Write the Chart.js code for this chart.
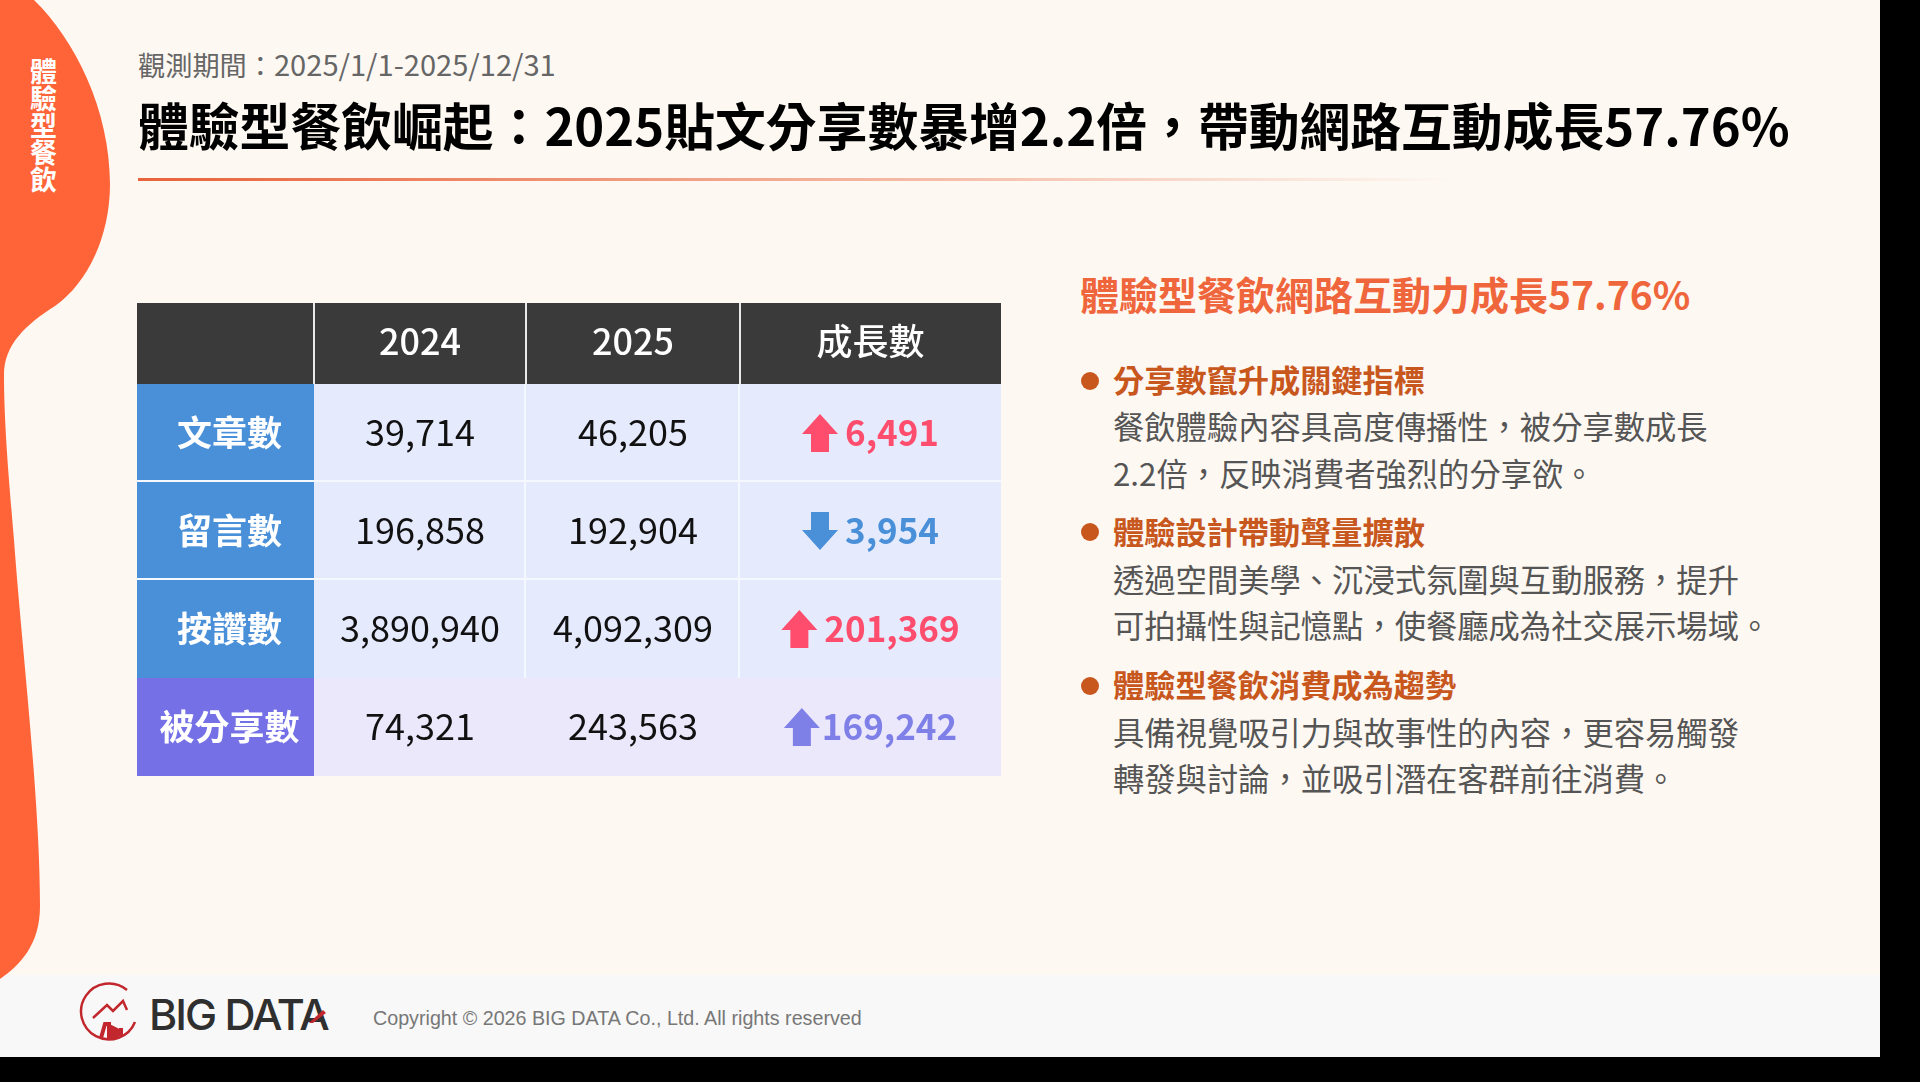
<!DOCTYPE html>
<html lang="zh-TW">
<head>
<meta charset="UTF-8">
<title>體驗型餐飲崛起</title>
<script src="https://cdn.jsdelivr.net/npm/chart.js"></script>
<style>
    * { margin: 0; padding: 0; box-sizing: border-box; }
    html, body { width: 1920px; height: 1082px; overflow: hidden; background: #000; }
    body { font-family: "Noto Sans CJK TC", sans-serif; position: relative; }
    .slide { position: absolute; left: 0; top: 0; width: 1880px; height: 1057px; background: #fdf8f2; overflow: hidden; }
    .footer { position: absolute; left: 0; top: 975px; width: 1880px; height: 82px; background: #f8f8f8; }
    .blob { position: absolute; left: 0; top: 0; }
    .t { position: absolute; white-space: nowrap; }
    .side { left: 26px; top: 58px; writing-mode: vertical-rl; font-size: 27px; line-height: 34px; font-weight: 700; color: #fff; }
    .period { left: 138px; top: 43px; font-size: 27.2px; line-height: 40px; color: #666; }
    .period span { font-size: 29.1px; }
    h1 { left: 138px; top: 89px; font-size: 50.8px; line-height: 70px; font-weight: 700; color: #000; }
    .rule { position: absolute; left: 138px; top: 178px; width: 1320px; height: 3px; background: linear-gradient(90deg, #e8633a, rgba(232,99,58,0)); }
    .chart-box { position: absolute; left: 137px; top: 303px; width: 864px; height: 473px; }
    h2 { left: 1080px; top: 266px; font-size: 39px; line-height: 54px; font-weight: 700; color: #f0663c; }
    .dot { position: absolute; left: 1081px; width: 18px; height: 18px; border-radius: 50%; background: #c8571e; }
    h3 { left: 1113px; font-size: 31.2px; line-height: 44px; font-weight: 700; color: #c8571e; }
    .body { left: 1113px; font-size: 31.3px; line-height: 44px; color: #555; }
    .brand { left: 149px; top: 985px; font-family: Inter, sans-serif; font-size: 43px; line-height: 58px; font-weight: 500; letter-spacing: -2px; color: #2f2f2f; }
    .copy { left: 373px; top: 1005px; font-family: "Liberation Sans", sans-serif; font-size: 19.7px; line-height: 26px; color: #777; }
</style>
</head>
<body>
<div class="slide">
    <div class="footer"></div>
    <svg class="blob" width="120" height="990" viewBox="0 0 120 990">
        <path d="M0 0 L34 0 C75 40 110 110 110 184 C110 240 85 285 55 306 C25 325 4 345 4 375 C4 420 8 470 14 540 C22 650 40 800 40 906 C40 945 20 965 0 979 Z" fill="#ff6338"/>
    </svg>
    <svg class="blob" style="left:77px;top:980px" width="66" height="66" viewBox="0 0 66 66" fill="none">
        <path d="M50 10 A28 28 0 1 0 58 42" stroke="#c1272d" stroke-width="2.5"/>
        <path d="M16 38 L30 25 L36 31 L46 21 L50 30" stroke="#c1272d" stroke-width="2.5"/>
        <path d="M24 58 L28 44 L32 44 L32 60 M36 60 L36 48 L40 50 L40 58 M44 56 L44 48" stroke="#c1272d" stroke-width="4"/>
    </svg>
    <div class="t side">體驗型餐飲</div>
    <div class="t period">觀測期間：<span>2025/1/1-2025/12/31</span></div>
    <h1 class="t">體驗型餐飲崛起：2025貼文分享數暴增2.2倍，帶動網路互動成長57.76%</h1>
    <div class="rule"></div>

    <div class="chart-box"><canvas id="tableChart" width="864" height="473"></canvas></div>

    <h2 class="t">體驗型餐飲網路互動力成長57.76%</h2>

    <div class="dot" style="top:372px"></div>
    <h3 class="t" style="top:357px">分享數竄升成關鍵指標</h3>
    <div class="t body" style="top:404px">餐飲體驗內容具高度傳播性，被分享數成長</div>
    <div class="t body" style="top:451px">2.2倍，反映消費者強烈的分享欲。</div>

    <div class="dot" style="top:523px"></div>
    <h3 class="t" style="top:509px">體驗設計帶動聲量擴散</h3>
    <div class="t body" style="top:557px">透過空間美學、沉浸式氛圍與互動服務，提升</div>
    <div class="t body" style="top:603px">可拍攝性與記憶點，使餐廳成為社交展示場域。</div>

    <div class="dot" style="top:677px"></div>
    <h3 class="t" style="top:662px">體驗型餐飲消費成為趨勢</h3>
    <div class="t body" style="top:710px">具備視覺吸引力與故事性的內容，更容易觸發</div>
    <div class="t body" style="top:756px">轉發與討論，並吸引潛在客群前往消費。</div>

    <div class="t brand">BIG DATA</div>
    <svg class="blob" style="left:306px;top:1008px" width="24" height="16" viewBox="0 0 24 16">
        <path d="M3 15 L17 2 L20 5 L7 15 Z" fill="#c1272d"/>
    </svg>
    <div class="t copy">Copyright © 2026 BIG DATA Co., Ltd. All rights reserved</div>
</div>

<script>
    const rowLabels = ['文章數', '留言數', '按讚數', '被分享數'];
    const columnHeaders = ['', '2024', '2025', '成長數'];
    const values2024 = [39714, 196858, 3890940, 74321];
    const values2025 = [46205, 192904, 4092309, 243563];
    const growth = [6491, -3954, 201369, 169242];

    // table layout, the cells are stacked bars on a scale of these widths
    const columnWidths = [177, 212, 214, 261];
    const headerHeight = 81;
    const fontName = '"Noto Sans CJK TC", sans-serif';
    const totalWidth = columnWidths.reduce((a, b) => a + b, 0);
    const columnEdges = columnWidths.map((w, i) => columnWidths.slice(0, i).reduce((a, b) => a + b, 0));

    const lineColor = '#f6f8ff';
    const headColors = ['#4a90d9', '#4a90d9', '#4a90d9', '#7570e6'];
    const cellColors = ['#e5eafc', '#e5eafc', '#e5eafc', '#ece8fc'];
    const upColors = ['#ff4d6d', '#ff4d6d', '#ff4d6d', '#7f7fe8'];
    const downColor = '#4a90d9';

    function drawArrow(ctx, cx, cy, up, color) {
        const dir = up ? 1 : -1;
        ctx.fillStyle = color;
        ctx.beginPath();
        ctx.moveTo(cx, cy - 19 * dir);
        ctx.lineTo(cx + 18, cy + dir);
        ctx.lineTo(cx + 9, cy + dir);
        ctx.lineTo(cx + 9, cy + 19 * dir);
        ctx.lineTo(cx - 9, cy + 19 * dir);
        ctx.lineTo(cx - 9, cy + dir);
        ctx.lineTo(cx - 18, cy + dir);
        ctx.closePath();
        ctx.fill();
    }

    const tablePlugin = {
        id: 'tablePlugin',
        // header band has to go under the axis labels
        beforeDraw(chart) {
            const x = chart.scales.x;
            chart.ctx.save();
            chart.ctx.fillStyle = '#3a3a3a';
            chart.ctx.fillRect(x.left, x.top, x.width, x.height);
            chart.ctx.restore();
        },
        afterDatasetsDraw(chart) {
            const ctx = chart.ctx;
            const x = chart.scales.x;
            ctx.save();
            ctx.fillStyle = '#e8e8e8';
            columnEdges.slice(1).forEach(edge => {
                ctx.fillRect(x.getPixelForValue(edge) - 1, x.top, 2, x.height);
            });
            ctx.textAlign = 'center';
            ctx.textBaseline = 'middle';
            rowLabels.forEach((label, r) => {
                const cell = c => {
                    const bar = chart.getDatasetMeta(c).data[r].getProps(['x', 'y', 'base']);
                    return { cx: (bar.x + bar.base) / 2, cy: bar.y };
                };
                ctx.font = '700 35px ' + fontName;
                ctx.fillStyle = '#fff';
                ctx.fillText(label, cell(0).cx + 4, cell(0).cy);

                ctx.font = '400 36px ' + fontName;
                ctx.fillStyle = '#111';
                ctx.fillText(values2024[r].toLocaleString('en-US'), cell(1).cx, cell(1).cy - 1);
                ctx.fillText(values2025[r].toLocaleString('en-US'), cell(2).cx, cell(2).cy - 1);

                const up = growth[r] >= 0;
                const color = up ? upColors[r] : downColor;
                const text = Math.abs(growth[r]).toLocaleString('en-US');
                const gap = r === 3 ? 2 : 7;
                ctx.font = '700 35px ' + fontName;
                const textWidth = ctx.measureText(text).width;
                const left = cell(3).cx - (36 + gap + textWidth) / 2;
                drawArrow(ctx, left + 18, cell(3).cy, up, color);
                ctx.fillStyle = color;
                ctx.textAlign = 'left';
                ctx.fillText(text, left + 36 + gap, cell(3).cy);
                ctx.textAlign = 'center';
            });
            ctx.restore();
        }
    };

    const cellBorder = ctx => ({
        top: 0,
        left: 0,
        right: ctx.dataIndex === 3 || ctx.datasetIndex === 0 || ctx.datasetIndex === 3 ? 0 : 2,
        bottom: ctx.dataIndex >= 2 ? 0 : 2
    });

    const columnDataset = (width, colors) => ({
        data: rowLabels.map(() => width),
        backgroundColor: colors,
        borderColor: lineColor,
        borderWidth: cellBorder,
        borderSkipped: false,
        inflateAmount: 0,
        barPercentage: 1,
        categoryPercentage: 1
    });

    new Chart(document.getElementById('tableChart'), {
        type: 'bar',
        data: {
            labels: rowLabels,
            datasets: [
                columnDataset(columnWidths[0], headColors),
                columnDataset(columnWidths[1], cellColors),
                columnDataset(columnWidths[2], cellColors),
                columnDataset(columnWidths[3], cellColors)
            ]
        },
        options: {
            indexAxis: 'y',
            responsive: false,
            animation: false,
            layout: { padding: 0 },
            plugins: { legend: { display: false }, tooltip: { enabled: false } },
            scales: {
                x: {
                    stacked: true,
                    position: 'top',
                    min: 0,
                    max: totalWidth,
                    grid: { display: false },
                    border: { display: false },
                    afterBuildTicks: scale => {
                        scale.ticks = columnWidths.map((w, i) => ({ value: columnEdges[i] + w / 2 }));
                    },
                    afterFit: scale => { scale.height = headerHeight; },
                    ticks: {
                        autoSkip: false,
                        maxRotation: 0,
                        padding: 13,
                        color: '#fff',
                        font: { family: fontName, size: 36, weight: '500' },
                        callback: (value, i) => columnHeaders[i]
                    }
                },
                y: { stacked: true, display: false }
            }
        },
        plugins: [tablePlugin]
    });
</script>
</body>
</html>
